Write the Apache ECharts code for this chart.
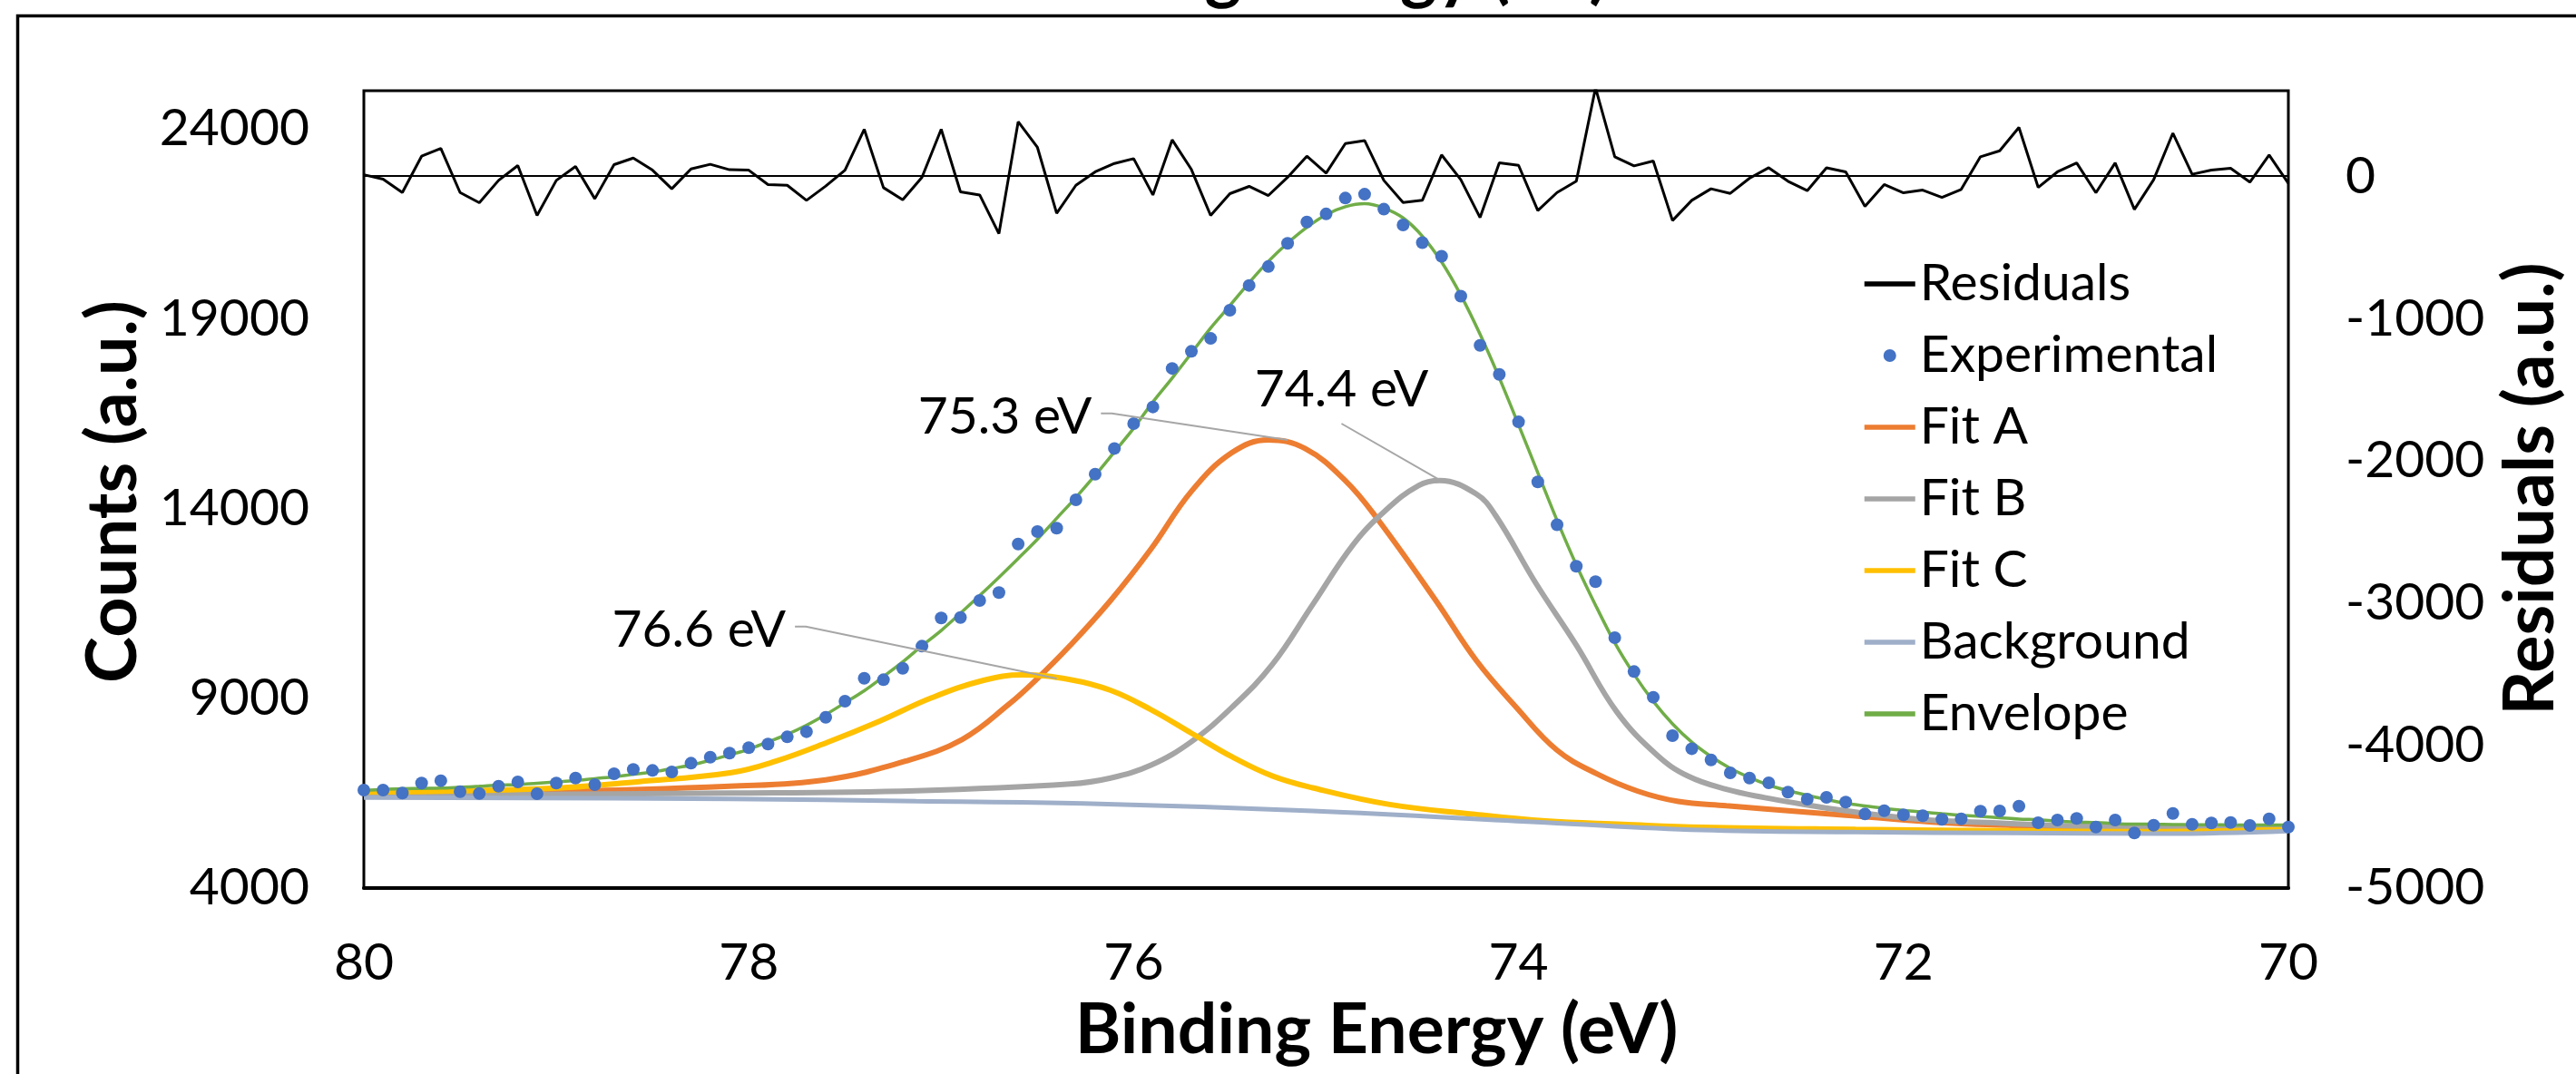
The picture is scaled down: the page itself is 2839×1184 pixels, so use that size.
<!DOCTYPE html>
<html>
<head>
<meta charset="utf-8">
<title>Binding energy fit</title>
<script src="https://cdn.jsdelivr.net/npm/echarts@6/dist/echarts.min.js"></script>
<style>
  html, body { margin: 0; padding: 0; background: #fff; }
  #main { width: 2839px; height: 1184px; }
</style>
</head>
<body>
<div id="main"></div>
<script>
// binding energy grid of the scan (eV)
var ENERGY = [80.0, 79.9, 79.8, 79.7, 79.6, 79.5, 79.4, 79.3, 79.2, 79.1,
  79.0, 78.9, 78.8, 78.7, 78.6, 78.5, 78.4, 78.3, 78.2, 78.1,
  78.0, 77.9, 77.8, 77.7, 77.6, 77.5, 77.4, 77.3, 77.2, 77.1,
  77.0, 76.9, 76.8, 76.7, 76.6, 76.5, 76.4, 76.3, 76.2, 76.1,
  76.0, 75.9, 75.8, 75.7, 75.6, 75.5, 75.4, 75.3, 75.2, 75.1,
  75.0, 74.9, 74.8, 74.7, 74.6, 74.5, 74.4, 74.3, 74.2, 74.1,
  74.0, 73.9, 73.8, 73.7, 73.6, 73.5, 73.4, 73.3, 73.2, 73.1,
  73.0, 72.9, 72.8, 72.7, 72.6, 72.5, 72.4, 72.3, 72.2, 72.1,
  72.0, 71.9, 71.8, 71.7, 71.6, 71.5, 71.4, 71.3, 71.2, 71.1,
  71.0, 70.9, 70.8, 70.7, 70.6, 70.5, 70.4, 70.3, 70.2, 70.1,
  70.0];

// measured counts
var EXPERIMENTAL = [6580, 6580, 6501, 6764, 6827, 6540, 6492, 6683, 6795, 6485,
  6764, 6898, 6723, 7010, 7122, 7098, 7058, 7289, 7448, 7552,
  7696, 7791, 7982, 8117, 8499, 8921, 9526, 9487, 9789, 10371,
  11112, 11127, 11573, 11781, 13062, 13389, 13477, 14225, 14901, 15577,
  16232, 16671, 17686, 18135, 18475, 19218, 19872, 20369, 20979, 21542,
  21755, 22173, 22274, 21880, 21464, 21000, 20639, 19590, 18293, 17529,
  16277, 14698, 13570, 12476, 12070, 10594, 9702, 9026, 8014, 7670,
  7376, 7034, 6898, 6771, 6525, 6341, 6389, 6262, 5951, 6038,
  5928, 5904, 5808, 5823, 6023, 6031, 6157, 5720, 5792, 5832,
  5608, 5792, 5450, 5656, 5966, 5680, 5713, 5727, 5648, 5823,
  5608];

// residuals (secondary axis)
var RESIDUALS = [10, -21, -115, 140, 195, -115, -187, -30, 74, -276,
  -30, 68, -159, 81, 127, 42, -89, 51, 83, 45,
  42, -59, -64, -170, -70, 42, 329, -81, -166, -8,
  329, -110, -132, -404, 382, 202, -261, -64, 30, 89,
  123, -132, 255, 47, -276, -123, -72, -136, -8, 140,
  21, 229, 250, -30, -185, -170, 149, -25, -291, 93,
  76, -242, -115, -36, 620, 136, 72, 106, -312, -170,
  -89, -121, -15, 59, -36, -102, 59, 30, -212, -59,
  -117, -98, -149, -93, 136, 178, 342, -79, 30, 93,
  -117, 93, -234, -25, 302, 13, 42, 55, -42, 149,
  -51];

// fitted envelope
var ENVELOPE = [6570, 6601, 6616, 6624, 6632, 6655, 6679, 6713, 6721, 6761,
  6794, 6830, 6882, 6929, 6995, 7056, 7147, 7238, 7365, 7507,
  7654, 7850, 8046, 8287, 8569, 8879, 9197, 9568, 9955, 10379,
  10783, 11237, 11705, 12185, 12680, 13187, 13738, 14289, 14871, 15488,
  16109, 16803, 17431, 18088, 18751, 19341, 19944, 20505, 20987, 21402,
  21734, 21944, 22024, 21910, 21649, 21170, 20490, 19615, 18584, 17436,
  16201, 14940, 13685, 12512, 11450, 10458, 9630, 8920, 8326, 7844,
  7465, 7155, 6913, 6712, 6561, 6443, 6330, 6232, 6163, 6097,
  6045, 6002, 5957, 5916, 5887, 5853, 5815, 5799, 5762, 5739,
  5725, 5699, 5684, 5681, 5672, 5668, 5665, 5663, 5662, 5661,
  5660];

// fit components, read at their own energies
var FIT_A_E = [80, 79.05, 78.1, 77.6, 77.18, 76.89, 76.65, 76.51, 76.33, 76.12, 75.91, 75.7, 75.49, 75.3,
  75.11, 74.9, 74.73, 74.43, 74.22, 74.01, 73.8, 73.59, 73.38, 73.17, 72.92, 72.72, 72.3, 71.85, 71.44, 71.04, 70.5, 70];
var FIT_A = [6500, 6540, 6683, 6850, 7350, 7918, 8833, 9471, 10390, 11573, 12928, 14450, 15465, 15802,
  15577, 14731, 13700, 11573, 9996, 8750, 7631, 7000, 6550, 6280, 6166, 6086, 5920, 5740, 5650, 5610, 5580, 5565];

var FIT_B_E = [80, 78.09, 77.13, 76.33, 76.12, 75.91, 75.7, 75.49, 75.28, 75.07, 74.86, 74.69, 74.52, 74.41,
  74.22, 74.12, 73.91, 73.7, 73.49, 73.28, 73.12, 72.92, 72.72, 72.52, 72.32, 71.91, 71.51, 71.11, 70.71, 70];
var FIT_B = [6444, 6500, 6565, 6740, 6896, 7235, 7856, 8757, 9884, 11463, 13040, 13950, 14600, 14731,
  14380, 13820, 12027, 10400, 8644, 7500, 6950, 6600, 6380, 6205, 6047, 5808, 5713, 5632, 5590, 5565];

var FIT_C_E = [80, 79.05, 78.57, 78.09, 77.86, 77.59, 77.32, 77.05, 76.78, 76.58, 76.33, 76.12, 75.91,
  75.7, 75.49, 75.28, 75.07, 74.67, 74.24, 73.86, 73.46, 73.05, 72.25, 71.44, 70.8, 70];
var FIT_C = [6525, 6621, 6802, 7041, 7340, 7839, 8396, 9010, 9471, 9614, 9490, 9208, 8699,
  8080, 7459, 6953, 6640, 6200, 5950, 5770, 5680, 5600, 5545, 5510, 5485, 5540];

var BG_E = [80, 78.09, 77.13, 76.26, 75.07, 73.86, 73.05, 72.25, 71.44, 70.64, 70];
var BACKGROUND = [6382, 6348, 6286, 6229, 6031, 5727, 5529, 5474, 5450, 5433, 5500];

// peak annotations: label, leader start, leader end (data coords)
var PEAK_LABELS = ['75.3 eV', '74.4 eV', '76.6 eV'];
var PEAK_FROM = [[76.17, 16500], [74.92, 16232], [77.76, 10888]];
var PEAK_TO = [[75.2, 15802], [74.41, 14750], [76.4, 9519]];

var LEFT_TICKS = [4000, 9000, 14000, 19000, 24000];
var RIGHT_TICKS = [-5000, -4000, -3000, -2000, -1000, 0];

var FONT = 'Lato';

function pairs(xs, ys) {
  return ys.map(function (v, i) { return [xs[i], v]; });
}

// legend entry of a line series: thick line only, no marker
function lineItem(name) {
  return { name: name, itemStyle: { opacity: 0 }, lineStyle: { width: 5.5 } };
}

var myChart = echarts.init(document.getElementById('main'));

var option = {
  animation: false,
  backgroundColor: '#fff',
  textStyle: { fontFamily: FONT },
  grid: {
    left: 401, right: 317, top: 100, bottom: 205,
    show: true, borderColor: '#000', borderWidth: 3
  },
  legend: {
    orient: 'vertical',
    left: 2052,
    top: 283,
    padding: 0,
    itemWidth: 56,
    itemHeight: 14,
    itemGap: 19,
    textStyle: { fontFamily: FONT, fontSize: 57, color: '#000', lineHeight: 60 },
    data: [lineItem('Residuals'), 'Experimental', lineItem('Fit A'), lineItem('Fit B'),
      lineItem('Fit C'), lineItem('Background'), lineItem('Envelope')]
  },
  xAxis: [{
    type: 'value',
    min: 70, max: 80, interval: 2,
    inverse: true,
    axisLine: { onZero: false, lineStyle: { color: '#000', width: 4 } },
    axisTick: { show: false },
    splitLine: { show: false },
    axisLabel: { margin: 54, fontSize: 57, fontFamily: FONT, color: '#000' }
  }, {
    // zero line of the residual axis
    type: 'value',
    min: 70, max: 80,
    inverse: true,
    axisLine: { onZero: true, onZeroAxisIndex: 1, lineStyle: { color: '#000', width: 2 } },
    axisTick: { show: false },
    splitLine: { show: false },
    axisLabel: { show: false }
  }],
  yAxis: [{
    type: 'value',
    min: 4000, max: 25000, interval: 1000,
    axisLine: { show: false },
    axisTick: { show: false },
    splitLine: { show: false },
    axisLabel: {
      margin: 60, fontSize: 57, fontFamily: FONT, color: '#000',
      formatter: function (v) { return LEFT_TICKS.indexOf(v) >= 0 ? String(v) : ''; }
    }
  }, {
    type: 'value',
    position: 'right',
    min: -5000, max: 600, interval: 1000,
    axisLine: { show: false },
    axisTick: { show: false },
    splitLine: { show: false },
    axisLabel: {
      margin: 63, fontSize: 57, fontFamily: FONT, color: '#000',
      formatter: function (v) { return RIGHT_TICKS.indexOf(v) >= 0 ? String(v) : ''; }
    }
  }],
  series: [{
    name: 'Residuals',
    type: 'line',
    yAxisIndex: 1,
    symbol: 'none',
    lineStyle: { color: '#000', width: 3 },
    itemStyle: { color: '#000' },
    data: pairs(ENERGY, RESIDUALS),
    z: 5
  }, {
    name: 'Experimental',
    type: 'scatter',
    symbolSize: 14,
    itemStyle: { color: '#4472C4', opacity: 1 },
    data: pairs(ENERGY, EXPERIMENTAL),
    z: 4
  }, {
    name: 'Fit A',
    type: 'line',
    symbol: 'none',
    smooth: 0.4,
    lineStyle: { color: '#ED7D31', width: 6 },
    itemStyle: { color: '#ED7D31' },
    data: pairs(FIT_A_E, FIT_A),
    z: 2
  }, {
    name: 'Fit B',
    type: 'line',
    symbol: 'none',
    smooth: 0.4,
    lineStyle: { color: '#A5A5A5', width: 6 },
    itemStyle: { color: '#A5A5A5' },
    data: pairs(FIT_B_E, FIT_B),
    z: 2
  }, {
    name: 'Fit C',
    type: 'line',
    symbol: 'none',
    smooth: 0.4,
    lineStyle: { color: '#FFC000', width: 6 },
    itemStyle: { color: '#FFC000' },
    data: pairs(FIT_C_E, FIT_C),
    z: 2
  }, {
    name: 'Background',
    type: 'line',
    symbol: 'none',
    smooth: 0.4,
    lineStyle: { color: '#9FAFC9', width: 5 },
    itemStyle: { color: '#9FAFC9' },
    data: pairs(BG_E, BACKGROUND),
    z: 2
  }, {
    name: 'Envelope',
    type: 'line',
    symbol: 'none',
    smooth: 0.3,
    lineStyle: { color: '#70AD47', width: 3.5 },
    itemStyle: { color: '#70AD47' },
    data: pairs(ENERGY, ENVELOPE),
    z: 3
  }]
};

myChart.setOption(option);

// titles, outer frame and peak call-outs
var labelFont = { fontFamily: FONT, fontSize: 57, fill: '#000' };
var graphics = [{
  type: 'polyline',
  shape: { points: [[19.5, 1300], [19.5, 17.5], [2900, 17.5]] },
  style: { stroke: '#000', lineWidth: 3.5, fill: null }
}, {
  type: 'text', x: 1440, y: 9,
  style: { text: 'Binding Energy (eV)', fontFamily: FONT, fontWeight: 'bold', fontSize: 77, fill: '#000', align: 'center', verticalAlign: 'bottom' }
}, {
  type: 'text', x: 1517, y: 1136,
  style: { text: 'Binding Energy (eV)', fontFamily: FONT, fontWeight: 'bold', fontSize: 77, fill: '#000', align: 'center', verticalAlign: 'middle' }
}, {
  type: 'text', x: 125, y: 542, rotation: Math.PI / 2,
  style: { text: 'Counts (a.u.)', fontFamily: FONT, fontWeight: 'bold', fontSize: 77, fill: '#000', align: 'center', verticalAlign: 'middle' }
}, {
  type: 'text', x: 2789, y: 539, rotation: Math.PI / 2,
  style: { text: 'Residuals (a.u.)', fontFamily: FONT, fontWeight: 'bold', fontSize: 77, fill: '#000', align: 'center', verticalAlign: 'middle' }
}];

// label offsets relative to each leader start
var LABEL_PLACE = [
  { dx: -10, dy: 4, align: 'right', hook: 12 },
  { dx: 0, dy: -37, align: 'center', hook: 0 },
  { dx: -10, dy: 4, align: 'right', hook: 12 }
];

PEAK_LABELS.forEach(function (txt, k) {
  var p0 = myChart.convertToPixel({ xAxisIndex: 0, yAxisIndex: 0 }, PEAK_FROM[k]);
  var p1 = myChart.convertToPixel({ xAxisIndex: 0, yAxisIndex: 0 }, PEAK_TO[k]);
  var pl = LABEL_PLACE[k];
  var pts = [p0];
  if (pl.hook) pts.push([p0[0] + pl.hook, p0[1]]);
  pts.push(p1);
  graphics.push({
    type: 'polyline', z: 10,
    shape: { points: pts },
    style: { stroke: '#A6A6A6', lineWidth: 2, fill: null }
  });
  graphics.push({
    type: 'text', z: 10,
    x: p0[0] + pl.dx, y: p0[1] + pl.dy,
    style: Object.assign({ text: txt, align: pl.align, verticalAlign: 'middle' }, labelFont)
  });
});

myChart.setOption({ graphic: graphics });
</script>
</body>
</html>
